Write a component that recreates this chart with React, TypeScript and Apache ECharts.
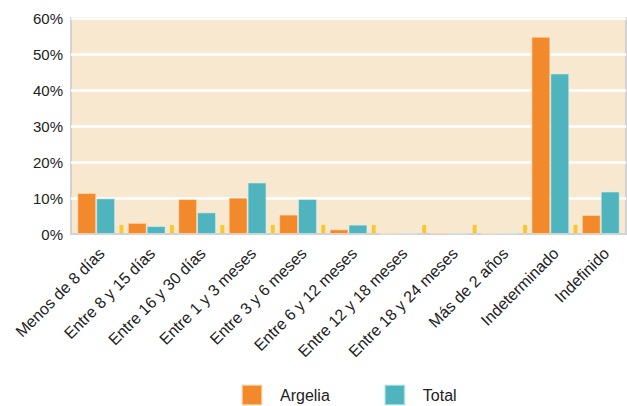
import React, { useEffect, useRef } from "react";
import * as echarts from "echarts";

const categories = [
  "Menos de 8 días",
  "Entre 8 y 15 días",
  "Entre 16 y 30 días",
  "Entre 1 y 3 meses",
  "Entre 3 y 6 meses",
  "Entre 6 y 12 meses",
  "Entre 12 y 18 meses",
  "Entre 18 y 24 meses",
  "Más de 2 años",
  "Indeterminado",
  "Indefinido",
];
const argelia = [11.4, 3.1, 9.7, 10.1, 5.4, 1.3, 0.1, 0.4, 0.1, 54.8, 5.3];
const total = [9.9, 2.2, 6.0, 14.3, 9.7, 2.6, 0.1, 0.1, 0.3, 44.6, 11.8];
const separators = [0, 1, 2, 3, 4, 5, 6, 7, 8, 9];

export default function App() {
  const ref = useRef<HTMLDivElement>(null);
  useEffect(() => {
    const chart = echarts.init(ref.current!, null, { renderer: "svg" });
    const font = "'Liberation Sans', Arial, sans-serif";
    chart.setOption({
      animation: false,
      textStyle: { fontFamily: font },
      legend: {
        data: ["Argelia", "Total"],
        left: 236,
        top: 379,
        icon: "rect",
        itemWidth: 20,
        itemHeight: 20,
        itemGap: 54,
        textStyle: { fontSize: 16, color: "#222", fontFamily: font, padding: [0, 0, 0, 13] },
      },
      grid: {
        left: 71,
        right: 1,
        top: 18,
        bottom: 172,
        show: true,
        backgroundColor: "#F8E8CF",
        borderColor: "#d2d2d2",
        borderWidth: 2,
      },
      xAxis: {
        type: "category",
        data: categories,
        axisLine: { show: true, lineStyle: { color: "#d2d2d2", width: 2 } },
        axisTick: { show: false },
        axisLabel: {
          rotate: 45,
          fontSize: 16,
          color: "#222",
          fontFamily: font,
          margin: 11,
          verticalAlign: "top",
          interval: 0,
        },
      },
      yAxis: {
        type: "value",
        min: 0,
        max: 60,
        interval: 10,
        axisLine: { show: false },
        axisTick: { show: false },
        axisLabel: {
          formatter: "{value}%",
          fontSize: 15,
          color: "#222",
          fontFamily: font,
          margin: 8,
        },
        splitLine: { lineStyle: { color: "#ffffff", width: 2.5 } },
      },
      series: [
        {
          name: "Argelia",
          type: "bar",
          data: argelia,
          barGap: "0%",
          barCategoryGap: "25%",
          itemStyle: { color: "#F28A2B", borderColor: "rgba(255,230,200,0.6)", borderWidth: 1 },
        },
        {
          name: "Total",
          type: "bar",
          data: total,
          barGap: "0%",
          barCategoryGap: "25%",
          itemStyle: { color: "#4FB4BE", borderColor: "rgba(210,240,240,0.6)", borderWidth: 1 },
        },
        {
          name: "sep",
          type: "custom",
          data: separators.map((i) => [i, 0]),
          encode: { x: 0, y: 1 },
          z: 5,
          renderItem: (params: any, api: any) => {
            const i = api.value(0);
            const p = api.coord([i, 0]);
            const band = api.size([1, 0])[0];
            const x = p[0] + band / 2;
            return {
              type: "rect",
              shape: { x: x - 2, y: p[1] - 9, width: 4, height: 8 },
              style: { fill: "#F9C82B" },
            };
          },
        },
      ],
    });
    return () => chart.dispose();
  }, []);
  return <div ref={ref} style={{ width: 627, height: 406, position: "absolute", left: 0, top: 0 }} />;
}
